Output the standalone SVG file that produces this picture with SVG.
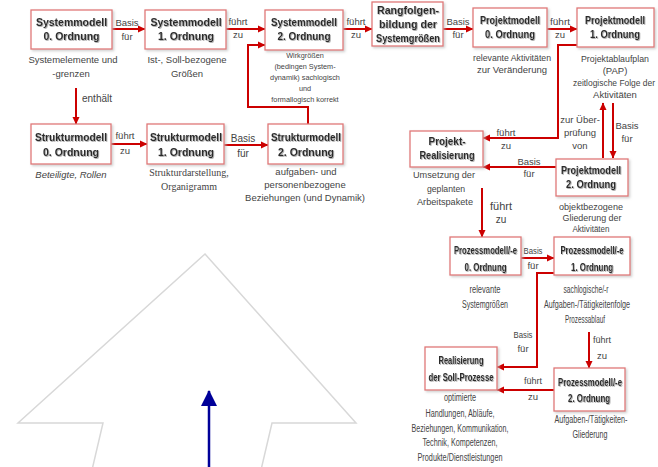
<svg xmlns="http://www.w3.org/2000/svg" width="658" height="467" viewBox="0 0 658 467">
<defs>
<marker id="ah" markerUnits="userSpaceOnUse" markerWidth="8" markerHeight="8" refX="7" refY="4" orient="auto">
<path d="M0,0.5 L7.5,4 L0,7.5 z" fill="#cc0000"/>
</marker>
<marker id="bh" markerUnits="userSpaceOnUse" markerWidth="16" markerHeight="16" refX="15" refY="8" orient="auto">
<path d="M0,0 L16,8 L0,16 z" fill="#000099"/>
</marker>
<filter id="bs" x="-10%" y="-10%" width="130%" height="140%">
<feDropShadow dx="1.5" dy="1.5" stdDeviation="1" flood-color="#bbbbbb" flood-opacity="0.7"/>
</filter>
<filter id="ts" x="-5%" y="-20%" width="110%" height="150%">
<feDropShadow dx="0.8" dy="0.8" stdDeviation="0.6" flood-color="#888888" flood-opacity="0.8"/>
</filter>
</defs>
<style>
.box{fill:#fff;stroke:#e07878;stroke-width:1.3}
.t{font-family:"Liberation Sans",Arial,sans-serif;font-weight:bold;font-size:10.5px;fill:#2b2b2b;text-anchor:middle}
.d{font-family:"Liberation Sans",Arial,sans-serif;font-size:9.5px;fill:#444;text-anchor:middle}
.s{font-family:"Liberation Sans",Arial,sans-serif;font-size:7.3px;fill:#444;text-anchor:middle}
.n{font-family:"Liberation Sans",Arial,sans-serif;font-size:10px;fill:#444;text-anchor:middle}
.r{font-family:"Liberation Serif","Times New Roman",serif;font-size:10px;fill:#444;text-anchor:middle}
.l{font-family:"Liberation Sans",Arial,sans-serif;font-size:9.5px;fill:#444;text-anchor:middle}
.c{fill:none;stroke:#cc0000;stroke-width:2;marker-end:url(#ah)}
</style>
<rect width="658" height="467" fill="#fff"/>

<g id="bigarrow">
<polygon points="205,254 356,423 272,423 261,470 92,470 103,423 18,423" fill="#fff" stroke="#d8d8d8" stroke-width="1.5"/>
<line x1="209" y1="467" x2="209" y2="391" stroke="#000099" stroke-width="2.5" marker-end="url(#bh)"/>
</g>

<g id="connectors">
<path class="c" d="M112,29 H145"/>
<path class="c" d="M226,29 H265"/>
<path class="c" d="M343,29 H372"/>
<path class="c" d="M443,29 H473"/>
<path class="c" d="M547,29 H577"/>
<path class="c" d="M76,88 V124"/>
<path class="c" d="M111,144 H147"/>
<path class="c" d="M224,145 H268"/>
<path class="c" d="M308,124 V107 H248 V45 H265"/>
<path class="c" d="M577,45 H558 V138 H483"/>
<path class="c" d="M556,167 H483"/>
<path class="c" d="M603,158 V103"/>
<path class="c" d="M613,103 V158"/>
<path class="c" d="M482,188 V237"/>
<path class="c" d="M521,258 H554"/>
<path class="c" d="M555,273 H537 V367 H497"/>
<path class="c" d="M589,332 V368"/>
<path class="c" d="M554,390 H497"/>
<g>
<text class="l" x="127" y="26">Basis</text><text class="l" x="127" y="40">für</text>
<text class="l" x="238" y="25">führt</text><text class="l" x="238" y="38">zu</text>
<text class="l" x="356" y="25">führt</text><text class="l" x="356" y="38">zu</text>
<text class="l" x="458" y="25">Basis</text><text class="l" x="458" y="38">für</text>
<text class="l" x="560" y="25" textLength="20" lengthAdjust="spacingAndGlyphs">führt</text><text class="l" x="560" y="38">zu</text>
<text class="n" x="97" y="102">enthält</text>
<text class="l" x="125" y="139">führt</text><text class="l" x="125" y="154">zu</text>
<text class="n" x="243" y="142">Basis</text><text class="n" x="243" y="157">für</text>
<text class="l" x="506" y="136">führt</text><text class="l" x="506" y="149">zu</text>
<text class="l" x="529" y="165">Basis</text><text class="l" x="529" y="177">für</text>
<text class="l" x="580" y="123">zur Über-</text><text class="l" x="580" y="136">prüfung</text><text class="l" x="580" y="149">von</text>
<text class="l" x="627" y="129">Basis</text><text class="l" x="627" y="142">für</text>
<text class="n" x="501" y="210" textLength="22" lengthAdjust="spacingAndGlyphs">führt</text><text class="n" x="501" y="223">zu</text>
<text class="l" x="533" y="254" textLength="19" lengthAdjust="spacingAndGlyphs">Basis</text><text class="l" x="533" y="269">für</text>
<text class="l" x="523" y="338" textLength="19" lengthAdjust="spacingAndGlyphs">Basis</text><text class="l" x="523" y="352">für</text>
<text class="l" x="602" y="343" textLength="18" lengthAdjust="spacingAndGlyphs">führt</text><text class="l" x="602" y="359">zu</text>
<text class="l" x="533" y="384" textLength="18" lengthAdjust="spacingAndGlyphs">führt</text><text class="l" x="533" y="400">zu</text>
</g>
</g>

<g id="sys0">
<rect class="box" x="31" y="10" width="81" height="39" filter="url(#bs)"/>
<text class="t" x="71.5" y="26" filter="url(#ts)">Systemmodell</text>
<text class="t" x="71.5" y="40" filter="url(#ts)">0. Ordnung</text>
<text class="d" x="73" y="63">Systemelemente und</text>
<text class="d" x="71" y="77">-grenzen</text>
</g>
<g id="sys1">
<rect class="box" x="145" y="10" width="81" height="39" filter="url(#bs)"/>
<text class="t" x="186" y="26" filter="url(#ts)">Systemmodell</text>
<text class="t" x="186" y="40" filter="url(#ts)">1. Ordnung</text>
<text class="d" x="187" y="63">Ist-, Soll-bezogene</text>
<text class="d" x="187" y="77">Größen</text>
</g>
<g id="sys2">
<rect class="box" x="265" y="10" width="78" height="40" filter="url(#bs)"/>
<text class="t" x="304" y="26" filter="url(#ts)" textLength="66" lengthAdjust="spacingAndGlyphs">Systemmodell</text>
<text class="t" x="304" y="40" filter="url(#ts)" textLength="53" lengthAdjust="spacingAndGlyphs">2. Ordnung</text>
<text class="s" x="305" y="58">Wirkgrößen</text>
<text class="s" x="305" y="69">(bedingen System-</text>
<text class="s" x="305" y="80">dynamik) sachlogisch</text>
<text class="s" x="305" y="91">und</text>
<text class="s" x="305" y="102">formallogisch korrekt</text>
</g>
<g id="rang">
<rect class="box" x="372" y="2" width="71" height="44" filter="url(#bs)"/>
<text class="t" x="408" y="14" filter="url(#ts)" textLength="62" lengthAdjust="spacingAndGlyphs">Rangfolgen-</text>
<text class="t" x="408" y="28" filter="url(#ts)" textLength="58" lengthAdjust="spacingAndGlyphs">bildung der</text>
<text class="t" x="408" y="42" filter="url(#ts)" textLength="64" lengthAdjust="spacingAndGlyphs">Systemgrößen</text>
</g>
<g id="proj0">
<rect class="box" x="473" y="8" width="74" height="39" filter="url(#bs)"/>
<text class="t" x="510" y="24" filter="url(#ts)" textLength="60" lengthAdjust="spacingAndGlyphs">Projektmodell</text>
<text class="t" x="510" y="38" filter="url(#ts)" textLength="50" lengthAdjust="spacingAndGlyphs">0. Ordnung</text>
<text class="d" x="512" y="61" textLength="78" lengthAdjust="spacingAndGlyphs">relevante Aktivitäten</text>
<text class="d" x="512" y="73">zur Veränderung</text>
</g>
<g id="proj1">
<rect class="box" x="577" y="8" width="77" height="39" filter="url(#bs)"/>
<text class="t" x="615" y="24" filter="url(#ts)" textLength="60" lengthAdjust="spacingAndGlyphs">Projektmodell</text>
<text class="t" x="615" y="38" filter="url(#ts)" textLength="50" lengthAdjust="spacingAndGlyphs">1. Ordnung</text>
<text class="d" x="615" y="62" textLength="68" lengthAdjust="spacingAndGlyphs">Projektablaufplan</text>
<text class="d" x="615" y="74">(PAP)</text>
<text class="d" x="614" y="86" textLength="82" lengthAdjust="spacingAndGlyphs">zeitlogische Folge der</text>
<text class="d" x="615" y="98">Aktivitäten</text>
</g>
<g id="struk0">
<rect class="box" x="31" y="124" width="80" height="40" filter="url(#bs)"/>
<text class="t" x="71" y="141" filter="url(#ts)" textLength="72" lengthAdjust="spacingAndGlyphs">Strukturmodell</text>
<text class="t" x="71" y="156" filter="url(#ts)">0. Ordnung</text>
<text class="d" x="71" y="178" font-style="italic">Beteiligte, Rollen</text>
</g>
<g id="struk1">
<rect class="box" x="147" y="124" width="77" height="40" filter="url(#bs)"/>
<text class="t" x="186" y="141" filter="url(#ts)" textLength="72" lengthAdjust="spacingAndGlyphs">Strukturmodell</text>
<text class="t" x="186" y="156" filter="url(#ts)">1. Ordnung</text>
<text class="r" x="189" y="176">Strukturdarstellung,</text>
<text class="r" x="189" y="190">Organigramm</text>
</g>
<g id="struk2">
<rect class="box" x="268" y="124" width="75" height="40" filter="url(#bs)"/>
<text class="t" x="306" y="141" filter="url(#ts)" textLength="70" lengthAdjust="spacingAndGlyphs">Strukturmodell</text>
<text class="t" x="306" y="156" filter="url(#ts)">2. Ordnung</text>
<text class="d" x="306" y="175" font-size="9.3">aufgaben- und</text>
<text class="d" x="305" y="188" font-size="9.3">personenbezogene</text>
<text class="d" x="305" y="201" font-size="9.3">Beziehungen (und Dynamik)</text>
</g>
<g id="projreal">
<rect class="box" x="410" y="131" width="73" height="36" filter="url(#bs)"/>
<text class="t" x="447" y="145" filter="url(#ts)" textLength="37" lengthAdjust="spacingAndGlyphs">Projekt-</text>
<text class="t" x="447" y="159" filter="url(#ts)" textLength="55" lengthAdjust="spacingAndGlyphs">Realisierung</text>
<text class="d" x="444" y="178" textLength="62" lengthAdjust="spacingAndGlyphs">Umsetzung der</text>
<text class="d" x="446" y="192" textLength="38" lengthAdjust="spacingAndGlyphs">geplanten</text>
<text class="d" x="445" y="205" textLength="56" lengthAdjust="spacingAndGlyphs">Arbeitspakete</text>
</g>
<g id="proj2">
<rect class="box" x="556" y="159" width="72" height="37" filter="url(#bs)"/>
<text class="t" x="591" y="174" filter="url(#ts)" textLength="60" lengthAdjust="spacingAndGlyphs">Projektmodell</text>
<text class="t" x="591" y="188" filter="url(#ts)" textLength="50" lengthAdjust="spacingAndGlyphs">2. Ordnung</text>
<text class="d" x="591" y="210" textLength="64" lengthAdjust="spacingAndGlyphs">objektbezogene</text>
<text class="d" x="592" y="221" textLength="59" lengthAdjust="spacingAndGlyphs">Gliederung der</text>
<text class="d" x="591" y="232" textLength="37" lengthAdjust="spacingAndGlyphs">Aktivitäten</text>
</g>
<g id="proz0">
<rect class="box" x="450" y="237" width="71" height="38" filter="url(#bs)"/>
<text class="t" x="485.5" y="254" filter="url(#ts)" textLength="63" lengthAdjust="spacingAndGlyphs">Prozessmodell/-e</text>
<text class="t" x="485.5" y="271" filter="url(#ts)" textLength="42" lengthAdjust="spacingAndGlyphs">0. Ordnung</text>
<text class="n" x="485" y="293" textLength="31" lengthAdjust="spacingAndGlyphs">relevante</text>
<text class="n" x="485" y="308" textLength="46" lengthAdjust="spacingAndGlyphs">Systemgrößen</text>
</g>
<g id="proz1">
<rect class="box" x="554" y="237" width="76" height="38" filter="url(#bs)"/>
<text class="t" x="592" y="254" filter="url(#ts)" textLength="63" lengthAdjust="spacingAndGlyphs">Prozessmodell/-e</text>
<text class="t" x="592" y="271" filter="url(#ts)" textLength="42" lengthAdjust="spacingAndGlyphs">1. Ordnung</text>
<text class="n" x="586" y="293" textLength="45" lengthAdjust="spacingAndGlyphs">sachlogische/-r</text>
<text class="n" x="587" y="308" textLength="86" lengthAdjust="spacingAndGlyphs">Aufgaben-/Tätigkeitenfolge</text>
<text class="n" x="585" y="323" textLength="40" lengthAdjust="spacingAndGlyphs">Prozessablauf</text>
</g>
<g id="realsoll">
<rect class="box" x="425" y="347" width="72" height="43" filter="url(#bs)"/>
<text class="t" x="461" y="364" filter="url(#ts)" textLength="45" lengthAdjust="spacingAndGlyphs">Realisierung</text>
<text class="t" x="461" y="381" filter="url(#ts)" textLength="65" lengthAdjust="spacingAndGlyphs">der Soll-Prozesse</text>
<text class="n" x="460" y="401" textLength="32" lengthAdjust="spacingAndGlyphs">optimierte</text>
<text class="n" x="460" y="417" textLength="69" lengthAdjust="spacingAndGlyphs">Handlungen, Abläufe,</text>
<text class="n" x="460" y="432" textLength="97" lengthAdjust="spacingAndGlyphs">Beziehungen, Kommunikation,</text>
<text class="n" x="460" y="446" textLength="75" lengthAdjust="spacingAndGlyphs">Technik, Kompetenzen,</text>
<text class="n" x="460" y="461" textLength="85" lengthAdjust="spacingAndGlyphs">Produkte/Dienstleistungen</text>
</g>
<g id="proz2">
<rect class="box" x="554" y="368" width="71" height="43" filter="url(#bs)"/>
<text class="t" x="590" y="386" filter="url(#ts)" textLength="64" lengthAdjust="spacingAndGlyphs">Prozessmodell/-e</text>
<text class="t" x="589" y="402" filter="url(#ts)" textLength="42" lengthAdjust="spacingAndGlyphs">2. Ordnung</text>
<text class="n" x="591" y="423" textLength="73" lengthAdjust="spacingAndGlyphs">Aufgaben-/Tätigkeiten-</text>
<text class="n" x="590" y="438" textLength="35" lengthAdjust="spacingAndGlyphs">Gliederung</text>
</g>
</svg>
